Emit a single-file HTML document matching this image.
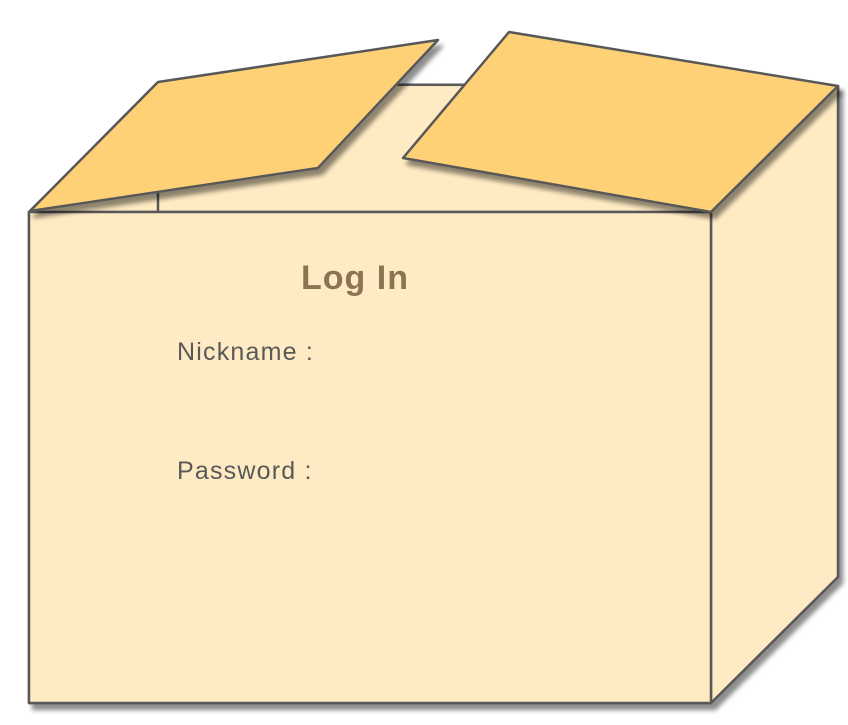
<!DOCTYPE html>
<html><head><style>body{margin:0;background:#fff}</style></head><body>
<svg width="848" height="720" xmlns="http://www.w3.org/2000/svg">
<defs>
<filter id="sh" x="-20%" y="-20%" width="140%" height="140%">
<feGaussianBlur in="SourceAlpha" stdDeviation="2.5"/>
<feOffset dx="4" dy="6" result="b"/>
<feComponentTransfer><feFuncA type="linear" slope="0.45"/></feComponentTransfer>
<feMerge><feMergeNode/><feMergeNode in="SourceGraphic"/></feMerge>
</filter>
</defs>
<g stroke="#595959" stroke-width="2.5" stroke-linejoin="round" fill="#ffebc3">
<g filter="url(#sh)">
<polygon points="29,212 158,84 838,86 838,577 711,703 29,703"/>
</g>
<polygon points="29,212 158,84 838,86 711,212"/>
<line x1="158" y1="190" x2="158" y2="212"/>
<polygon points="711,212 838,86 838,577 711,703"/>
<rect x="29" y="212" width="682" height="491"/>
<g fill="#fed177" filter="url(#sh)">
<polygon points="30,211 158,82 438,40 318,168"/>
<polygon points="403,158 509,32 838,86 711,212"/>
</g>
</g>
<g font-family="'Liberation Sans',sans-serif">
<text x="355" y="289" text-anchor="middle" font-size="34" font-weight="bold" fill="#8c7453" letter-spacing="1">Log In</text>
<text x="177" y="360" font-size="25" fill="#595959" letter-spacing="1.2">Nickname :</text>
<text x="177" y="479" font-size="25" fill="#595959" letter-spacing="1.2">Password :</text>
</g>
</svg>
</body></html>
